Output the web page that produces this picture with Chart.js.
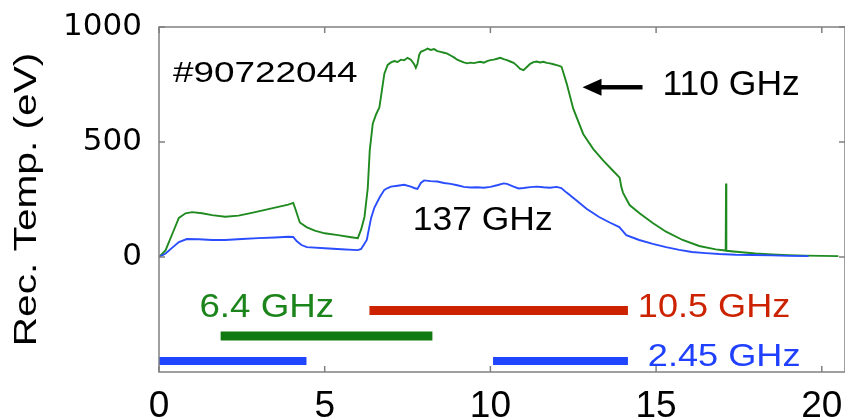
<!DOCTYPE html>
<html>
<head>
<meta charset="utf-8">
<script src="https://cdn.jsdelivr.net/npm/chart.js@4.4.1/dist/chart.umd.min.js"></script>
<style>
  html, body { margin: 0; padding: 0; background: #fff; }
  #wrap { width: 845px; height: 417px; }
</style>
</head>
<body>
<div id="wrap"><canvas id="c" width="845" height="417"></canvas></div>
<script>
// Shot #90722044: radiometer temperature vs time (s)
const t110 = [0, 0.2, 0.4, 0.6, 0.8, 1.0, 1.3, 1.6, 2.0, 2.4, 2.8, 3.2, 3.6, 3.9, 4.05,
  4.1, 4.25, 4.45, 4.7, 5.0, 5.4, 5.8, 6.0, 6.1, 6.2, 6.3, 6.36, 6.45, 6.55, 6.65, 6.8,
  6.9, 7.0, 7.1, 7.2, 7.3, 7.4, 7.5, 7.6, 7.7, 7.75, 7.8, 7.85, 7.9, 8.0, 8.1, 8.2, 8.3,
  8.4, 8.5, 8.6, 8.7, 8.8, 8.9, 9.0, 9.1, 9.2, 9.3, 9.4, 9.5, 9.6, 9.7, 9.8, 9.9, 10.0,
  10.1, 10.2, 10.3, 10.4, 10.5, 10.6, 10.7, 10.8, 10.9, 11.0, 11.1, 11.2, 11.3, 11.4,
  11.5, 11.6, 11.7, 11.8, 11.9, 12.0, 12.1, 12.15, 12.3, 12.5, 12.8, 13.1, 13.4, 13.7,
  13.9, 13.95, 14.0, 14.2, 14.5, 14.9, 15.3, 15.8, 16.3, 16.8, 17.1, 17.11, 17.12, 17.5,
  18.0, 18.5, 19.0, 19.5, 20.0, 20.5];
const te110 = [0, 30, 100, 170, 190, 195, 190, 182, 175, 180, 192, 205, 218, 228, 235,
  215, 150, 130, 115, 103, 95, 86, 82, 120, 174, 300, 465, 580, 620, 650, 797,
  835, 846, 852, 848, 858, 855, 866, 858, 838, 822, 840, 878, 892, 898, 906, 900, 904,
  895, 892, 888, 884, 876, 868, 858, 852, 846, 842, 845, 843, 846, 849, 845, 852, 856,
  858, 862, 866, 860, 856, 850, 844, 832, 818, 812, 826, 840, 847, 850,
  846, 849, 844, 842, 838, 834, 830, 826, 755, 645, 535, 470, 420, 375,
  345, 305, 280, 226, 190, 148, 110, 74, 48, 33, 28, 320, 27, 22,
  15, 11, 8, 6, 5, 4];

const t137 = [0, 0.2, 0.42, 0.6, 0.84, 1.2, 1.6, 2.0, 2.5, 3.0, 3.5, 3.9, 4.05, 4.16,
  4.3, 4.46, 5.0, 5.5, 6.0, 6.1, 6.27, 6.4, 6.5, 6.66, 6.8, 6.9, 7.0, 7.2, 7.4, 7.6, 7.7,
  7.8, 7.9, 8.0, 8.2, 8.4, 8.6, 8.8, 9.0, 9.2, 9.4, 9.6, 9.8, 10.0, 10.2, 10.4, 10.5,
  10.7, 10.85, 11.0, 11.2, 11.4, 11.6, 11.8, 12.0, 12.14, 12.3, 12.59, 12.9, 13.28, 13.6,
  13.89, 13.95, 14.1, 14.49, 14.9, 15.3, 15.7, 16.08, 16.5, 16.9, 17.4, 17.9, 18.5, 19.0,
  19.6];
const te137 = [0, 15, 43, 65, 78, 77, 74, 74, 78, 82, 85, 88, 87, 68,
  52, 43, 38, 34, 30, 35, 74, 170, 215, 260, 292, 300, 306, 310, 314, 306, 300,
  296, 322, 333, 330, 328, 322, 318, 312, 305, 302, 303, 301, 305, 312, 320, 318,
  306, 298, 300, 304, 306, 303, 301, 305, 300, 280, 247, 210, 174, 150,
  130, 120, 95, 74, 57, 43, 31, 22, 17, 13, 10, 9, 7, 5,
  4];

// heating windows (start, end) and the level at which each bar is drawn
const ech64 = [1.86, 8.25];
const level64 = -343;
const ech105 = [6.35, 14.15];
const level105 = -233;
const ech245a = [0, 4.45];
const ech245b = [10.08, 14.15];
const level245 = -452;

const xTickVals = [0, 5, 10, 15, 20];
const yTickVals = [0, 500, 1000];

const pts = (xs, ys) => xs.map((x, i) => ({ x: x, y: ys[i] }));
const seg = (span, level) => [{ x: span[0], y: level }, { x: span[1], y: level }];

const frameColor = '#808080';

const framePlugin = {
  id: 'frameAndNotes',
  afterDatasetsDraw(chart) {
    const { ctx, chartArea: a, scales: { x, y } } = chart;
    ctx.save();
    ctx.strokeStyle = frameColor;
    ctx.lineWidth = 1.5;
    ctx.strokeRect(a.left, a.top, a.right - a.left, a.bottom - a.top);
    // inward tick marks on all four sides
    const tl = 6;
    ctx.beginPath();
    x.ticks.forEach(t => {
      const px = x.getPixelForValue(t.value);
      ctx.moveTo(px, a.bottom); ctx.lineTo(px, a.bottom - tl);
      ctx.moveTo(px, a.top); ctx.lineTo(px, a.top + tl);
    });
    y.ticks.forEach(t => {
      const py = y.getPixelForValue(t.value);
      ctx.moveTo(a.left, py); ctx.lineTo(a.left + tl, py);
      ctx.moveTo(a.right, py); ctx.lineTo(a.right - tl, py);
    });
    ctx.stroke();
    ctx.restore();
  },
  afterDraw(chart) {
    const { ctx, chartArea: a, scales: { x, y } } = chart;
    const notes = [
      { text: '#90722044', x: 0.42, y: 760, size: 30, sx: 1.23, color: '#000' },
      { text: '110 GHz', x: 15.19, y: 706, size: 35.5, sx: 1.0, color: '#000' },
      { text: '137 GHz', x: 7.66, y: 117, size: 32.5, sx: 1.09, color: '#000' },
      { text: '6.4 GHz', x: 1.22, y: -259, size: 32.5, sx: 1.13, color: '#1b841b' },
      { text: '10.5 GHz', x: 14.45, y: -259, size: 32.5, sx: 1.11, color: '#cc2200' },
      { text: '2.45 GHz', x: 14.75, y: -473, size: 32, sx: 1.13, color: '#1f40ff' }
    ];
    ctx.save();
    ctx.textAlign = 'left';
    ctx.textBaseline = 'alphabetic';
    notes.forEach(n => {
      ctx.save();
      ctx.translate(x.getPixelForValue(n.x), y.getPixelForValue(n.y));
      ctx.scale(n.sx, 1);
      ctx.font = n.size + 'px "Liberation Sans", Arial, sans-serif';
      ctx.fillStyle = n.color;
      ctx.fillText(n.text, 0, 0);
      ctx.restore();
    });

    // arrow pointing at the 110 GHz trace
    const ay = y.getPixelForValue(738);
    const tip = x.getPixelForValue(12.78);
    const tail = x.getPixelForValue(14.59);
    ctx.fillStyle = '#000';
    ctx.fillRect(tip + 16, ay - 2.2, tail - tip - 16, 4.4);
    ctx.beginPath();
    ctx.moveTo(tip, ay);
    ctx.lineTo(tip + 19, ay - 8.5);
    ctx.lineTo(tip + 19, ay + 8.5);
    ctx.closePath();
    ctx.fill();

    // y axis title
    ctx.save();
    ctx.translate(27, (a.top + a.bottom) / 2);
    ctx.rotate(-Math.PI / 2);
    ctx.scale(1.27, 1);
    ctx.font = '32px "Liberation Sans", Arial, sans-serif';
    ctx.fillStyle = '#000';
    ctx.textAlign = 'center';
    ctx.textBaseline = 'middle';
    ctx.fillText('Rec. Temp. (eV)', 0, 0);
    ctx.restore();
    ctx.restore();
  }
};

new Chart(document.getElementById('c'), {
  type: 'line',
  data: {
    datasets: [
      { label: '137 GHz', data: pts(t137, te137), borderColor: '#2a4dff', borderWidth: 1.9,
        pointRadius: 0, tension: 0, order: 1 },
      { label: '110 GHz', data: pts(t110, te110), borderColor: '#1f8a1f', borderWidth: 1.9,
        pointRadius: 0, tension: 0, order: 2 },
      { label: '10.5 GHz', data: seg(ech105, level105), borderColor: '#cc2200', borderWidth: 9,
        borderCapStyle: 'butt', pointRadius: 0, order: 3 },
      { label: '6.4 GHz', data: seg(ech64, level64), borderColor: '#107a10', borderWidth: 9,
        borderCapStyle: 'butt', pointRadius: 0, order: 3 },
      { label: '2.45 GHz', data: seg(ech245a, level245).concat([{ x: 7, y: null }], seg(ech245b, level245)),
        borderColor: '#1f45ff', borderWidth: 8, borderCapStyle: 'butt', pointRadius: 0,
        spanGaps: false, order: 3 }
    ]
  },
  options: {
    responsive: false,
    animation: false,
    devicePixelRatio: 1,
    layout: { padding: { top: 27, right: 0, bottom: 0, left: 0 } },
    plugins: { legend: { display: false }, tooltip: { enabled: false } },
    scales: {
      x: {
        type: 'linear', min: 0, max: 20.7,
        grid: { display: false }, border: { display: false },
        afterBuildTicks: ax => { ax.ticks = xTickVals.map(v => ({ value: v })); },
        afterFit: ax => { ax.height = 45; ax.paddingLeft = 0; ax.paddingRight = 0; },
        ticks: { font: { family: '"Liberation Sans", Arial, sans-serif', size: 37 }, color: '#000',
          padding: 5, maxRotation: 0, autoSkip: false, callback: v => String(v) }
      },
      y: {
        type: 'linear', min: -500, max: 1000,
        grid: { display: false }, border: { display: false },
        afterBuildTicks: ax => { ax.ticks = yTickVals.map(v => ({ value: v })); },
        afterFit: ax => { ax.width = 159; ax.paddingTop = 0; ax.paddingBottom = 0; },
        ticks: { font: { family: '"DejaVu Sans", sans-serif', size: 31 }, color: '#000',
          padding: 9, callback: v => String(v) }
      }
    }
  },
  plugins: [framePlugin]
});
</script>
</body>
</html>
